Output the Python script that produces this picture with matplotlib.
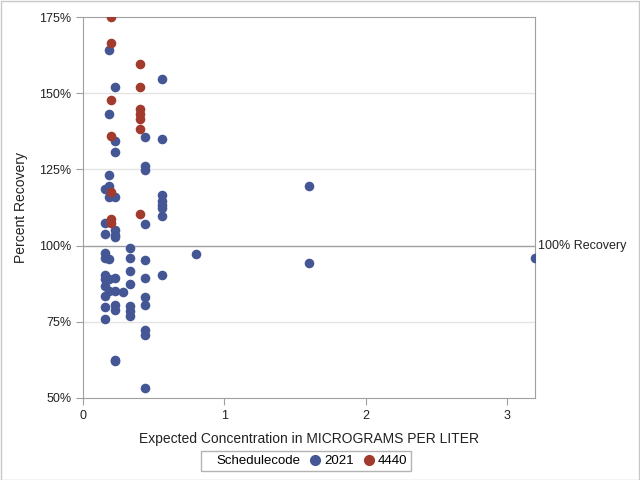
import matplotlib
matplotlib.use("Agg")
import matplotlib.pyplot as plt
from matplotlib.lines import Line2D
from matplotlib.patches import Rectangle
from matplotlib.ticker import FuncFormatter

plt.rcParams['font.family'] = ['Liberation Sans', 'DejaVu Sans']

# schedule 2021 (blue)
x_2021 = [0.154] * 11 + [0.184] * 8 + [0.225] * 13 + [0.28] + [0.33] * 7 \
    + [0.44] * 11 + [0.56] * 8 + [0.8] + [1.6] * 2 + [3.2]
y_2021 = [118.5, 107.5, 103.7, 97.5, 96.0, 90.5, 89.0, 86.8, 83.5, 80.0, 75.8,
          164.3, 143.2, 123.0, 119.5, 116.0, 95.5, 89.0, 85.0,
          152.0, 134.2, 130.8, 116.0, 105.0, 103.5, 102.7, 89.5, 85.0, 80.5, 79.0, 62.6, 62.0,
          84.8,
          99.1, 96.0, 91.7, 87.3, 80.3, 78.5, 76.8,
          135.5, 126.0, 124.8, 107.0, 95.2, 89.5, 83.3, 80.5, 72.4, 70.7, 53.2,
          154.5, 135.0, 116.7, 114.5, 113.4, 112.3, 109.8, 90.2,
          97.2,
          119.6, 94.3,
          96.0]

# schedule 4440 (red)
x_4440 = [0.2] * 7 + [0.4] * 7
y_4440 = [175.0, 166.5, 147.8, 135.9, 117.6, 108.6, 107.3,
          159.6, 152.0, 144.9, 143.2, 141.4, 138.1, 110.5]

blue = '#445694'
red = '#A23A2E'

fig = plt.figure(figsize=(6.4, 4.8), dpi=100)
ax = fig.add_axes([83 / 640, 1 - 398 / 480, (535 - 83) / 640, (398 - 17) / 480])

ax.set_xlim(0, 3.2)
ax.set_ylim(50, 175)
ax.set_yticks([50, 75, 100, 125, 150, 175])
ax.set_xticks([0, 1, 2, 3])
ax.yaxis.set_major_formatter(FuncFormatter(lambda v, p: '%d%%' % v))

for v in [75, 125, 150]:
    ax.axhline(v, color='#e4e4e4', lw=1, zorder=0)
ax.axhline(100, color='#a0a0a0', lw=1, zorder=1)
ax.text(3.22, 100, '100% Recovery', fontsize=9, va='center', ha='left', color='#222222',
        clip_on=False)

ax.scatter(x_2021, y_2021, s=48, color=blue, zorder=3, linewidths=0)
ax.scatter(x_4440, y_4440, s=48, color=red, zorder=3, linewidths=0)

for s in ax.spines.values():
    s.set_color('#a0a0a0')
ax.tick_params(colors='#a0a0a0', labelcolor='#222222', labelsize=9, length=5)

ax.set_xlabel('Expected Concentration in MICROGRAMS PER LITER', fontsize=10, color='#222222',
              labelpad=7)
ax.set_ylabel('Percent Recovery', fontsize=10, color='#222222', labelpad=8)

# legend: "Schedulecode" as an inline title with an empty handle
handles = [Line2D([], [], linestyle='none'),
           Line2D([], [], linestyle='none', marker='o', markersize=7, color=blue),
           Line2D([], [], linestyle='none', marker='o', markersize=7, color=red)]
labels = ['Schedulecode', '2021', '4440']
leg = fig.legend(handles, labels, ncol=3, loc='center', bbox_to_anchor=(306 / 640, 1 - 461 / 480),
                 frameon=True, fancybox=False, fontsize=9.5, handlelength=0.4,
                 handletextpad=0.5, columnspacing=0.9, borderpad=0.3)
leg.get_frame().set_edgecolor('#a0a0a0')
leg.get_frame().set_linewidth(1)

fig.patches.append(Rectangle((0.001, 0.001), 0.997, 0.997, transform=fig.transFigure,
                             fill=False, edgecolor='#c8c8c8', lw=1))

fig.savefig('out.png', dpi=100)
